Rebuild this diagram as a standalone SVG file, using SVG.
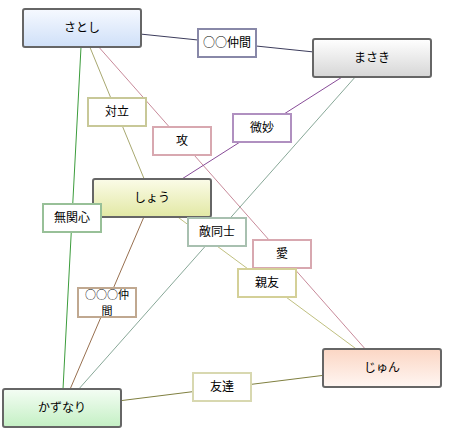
<svg xmlns="http://www.w3.org/2000/svg" width="451" height="436" viewBox="0 0 451 436">
<defs>
<linearGradient id="gBlue" x1="0" y1="0" x2="0" y2="1"><stop offset="0" stop-color="#f6f9ff"/><stop offset="1" stop-color="#cfe0f8"/></linearGradient>
<linearGradient id="gGray" x1="0" y1="0" x2="0" y2="1"><stop offset="0" stop-color="#ffffff"/><stop offset="1" stop-color="#d6d6d6"/></linearGradient>
<linearGradient id="gYellow" x1="0" y1="0" x2="0" y2="1"><stop offset="0" stop-color="#fbfbe8"/><stop offset="1" stop-color="#e2e8a4"/></linearGradient>
<linearGradient id="gPeach" x1="0" y1="0" x2="0" y2="1"><stop offset="0" stop-color="#fbd6c4"/><stop offset="1" stop-color="#fff6f2"/></linearGradient>
<linearGradient id="gGreen" x1="0" y1="0" x2="0" y2="1"><stop offset="0" stop-color="#f4fdf4"/><stop offset="1" stop-color="#c4f0c4"/></linearGradient>
</defs>
<style>
text{font-family:"MS UI Gothic","Noto Sans CJK JP","Noto Sans CJK SC",sans-serif;font-size:12px;fill:#000;text-anchor:middle}
.node rect{stroke:#666666;stroke-width:2}
.lbl rect{fill:#fff;stroke-width:2}
#connectors line{stroke-width:1;fill:none}
.small{font-size:11px}
</style>
<g id="connectors">
<line x1="82" y1="28" x2="372" y2="58" stroke="#3c3c5c"/>
<line x1="82" y1="28" x2="152" y2="198" stroke="#a8a870"/>
<line x1="82" y1="28" x2="382" y2="368" stroke="#c88a9a"/>
<line x1="372" y1="58" x2="152" y2="198" stroke="#884c98"/>
<line x1="82" y1="28" x2="62" y2="408" stroke="#3c9c3c"/>
<line x1="372" y1="58" x2="62" y2="408" stroke="#88a898"/>
<line x1="152" y1="198" x2="382" y2="368" stroke="#c0c080"/>
<line x1="152" y1="198" x2="62" y2="408" stroke="#987050"/>
<line x1="62" y1="408" x2="382" y2="368" stroke="#808040"/>
</g>
<g id="satoshi" class="node"><rect x="23" y="9" width="118" height="38" rx="2" fill="url(#gBlue)"/><text x="82" y="32">さとし</text></g>
<g id="masaki" class="node"><rect x="313" y="39" width="118" height="38" rx="2" fill="url(#gGray)"/><text x="372" y="62">まさき</text></g>
<g id="shou" class="node"><rect x="93" y="179" width="118" height="38" rx="2" fill="url(#gYellow)"/><text x="152" y="202">しょう</text></g>
<g id="jun" class="node"><rect x="323" y="349" width="118" height="38" rx="2" fill="url(#gPeach)"/><text x="382" y="372">じゅん</text></g>
<g id="kazunari" class="node"><rect x="3" y="389" width="118" height="38" rx="2" fill="url(#gGreen)"/><text x="62" y="412">かずなり</text></g>
<g id="lbl-nakama" class="lbl"><rect x="198" y="29" width="58" height="28" stroke="#8888a8"/><text x="227" y="47">○○仲間</text></g>
<g id="lbl-tairitsu" class="lbl"><rect x="88" y="98" width="58" height="28" stroke="#c8c898"/><text x="117" y="116">対立</text></g>
<g id="lbl-seme" class="lbl"><rect x="153" y="127" width="58" height="28" stroke="#d8a8b0"/><text x="182" y="145">攻</text></g>
<g id="lbl-bimyou" class="lbl"><rect x="233" y="114" width="58" height="28" stroke="#b090c0"/><text x="262" y="132">微妙</text></g>
<g id="lbl-mukanshin" class="lbl"><rect x="43" y="204" width="58" height="28" stroke="#98c098"/><text x="72" y="222">無関心</text></g>
<g id="lbl-tekidoushi" class="lbl"><rect x="188" y="218" width="58" height="28" stroke="#a8c0b0"/><text x="217" y="236">敵同士</text></g>
<g id="lbl-ai" class="lbl"><rect x="253" y="240" width="58" height="28" stroke="#d8a8b0"/><text x="282" y="258">愛</text></g>
<g id="lbl-shinyuu" class="lbl"><rect x="238" y="269" width="58" height="28" stroke="#d4d098"/><text x="267" y="287">親友</text></g>
<g id="lbl-nakama3" class="lbl"><rect x="78" y="288" width="58" height="29" stroke="#c0a890"/><text class="small" x="107" y="298.5">○○○仲</text><text class="small" x="107" y="315">間</text></g>
<g id="lbl-tomodachi" class="lbl"><rect x="193" y="373" width="58" height="28" stroke="#d8d8b0"/><text x="222" y="391">友達</text></g>
</svg>
